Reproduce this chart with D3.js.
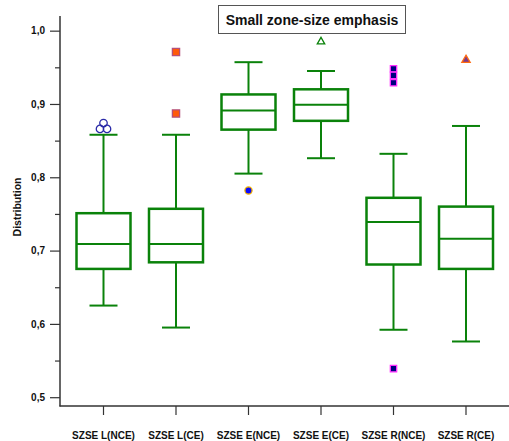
<!DOCTYPE html>
<html>
<head>
<meta charset="utf-8">
<script src="https://cdn.jsdelivr.net/npm/d3@7"></script>
<style>
    body { margin: 0; background: #fff; }
    text { font-family: "Liberation Sans", Arial, sans-serif; font-weight: bold; }
</style>
</head>
<body>
<div id="chart"></div>
<script>
// categories and box statistics
const categories = ["SZSE L(NCE)", "SZSE L(CE)", "SZSE E(NCE)", "SZSE E(CE)", "SZSE R(NCE)", "SZSE R(CE)"];
const whiskerLow  = [0.625, 0.595, 0.805, 0.826, 0.592, 0.576];
const q1          = [0.675, 0.684, 0.865, 0.877, 0.681, 0.675];
const median      = [0.709, 0.709, 0.891, 0.899, 0.739, 0.716];
const q3          = [0.751, 0.757, 0.913, 0.920, 0.772, 0.760];
const whiskerHigh = [0.858, 0.858, 0.957, 0.945, 0.832, 0.870];

// outliers per category
const outliers = [
    [0.866, 0.866, 0.874],
    [0.887, 0.971],
    [0.782],
    [0.985],
    [0.948, 0.939, 0.929, 0.539],
    [0.960]
];
const yTicks = [0.5, 0.6, 0.7, 0.8, 0.9, 1.0];

function BoxChart() {
    let self = this;

    self.initialize = function() {
        self.width = 509;
        self.height = 441;
        self.green = "#0a820a";

        // marker style for each category's outliers
        self.markers = [
            {type: d3.symbolCircle,   size: 44, fill: "none",    stroke: "#2a2aa8"},
            {type: d3.symbolSquare,   size: 52, fill: "#ff5a0a", stroke: "#b4507a"},
            {type: d3.symbolCircle,   size: 40, fill: "#0a0aff", stroke: "#f0b000"},
            {type: d3.symbolTriangle, size: 24, fill: "none",    stroke: "#0a820a"},
            {type: d3.symbolSquare,   size: 40, fill: "#000080", stroke: "#ff30ff"},
            {type: d3.symbolTriangle, size: 30, fill: "#7a3a8c", stroke: "#ff6a10"}
        ];

        self.x = d3.scaleBand().domain(categories).range([67.25, 502.25]);
        self.y = d3.scaleLinear().domain([0.488, 1.02]).range([406, 16]);

        self.render();
    };

    self.render = function() {
        self.svg = d3.select("#chart").append("svg")
            .attr("width", self.width)
            .attr("height", self.height);

        self.renderAxes();
        self.renderBoxes();
        self.renderOutliers();
        self.renderTitle();
    };

    self.renderAxes = function() {
        const fmt = d => d3.format(".1f")(d).replace(".", ",");

        // minor ticks
        const minor = d3.range(0.55, 1.0, 0.1);
        self.svg.append("g")
            .attr("transform", "translate(60,0)")
            .call(d3.axisLeft(self.y).tickValues(minor).tickSize(5).tickFormat(""))
            .call(g => g.select(".domain").remove())
            .call(g => g.selectAll("line").attr("stroke", "#333").attr("stroke-width", 1.2));

        const yAxis = self.svg.append("g")
            .attr("transform", "translate(60,0)")
            .call(d3.axisLeft(self.y).tickValues(yTicks).tickSize(10).tickPadding(5).tickFormat(fmt));
        yAxis.select(".domain").remove();
        yAxis.selectAll("line").attr("stroke", "#333").attr("stroke-width", 1.2);
        yAxis.selectAll("text").attr("font-size", 10).attr("fill", "#111")
            .style("font-family", "'Liberation Sans', Arial, sans-serif").style("font-weight", "bold");

        const xAxis = self.svg.append("g")
            .attr("transform", "translate(0,406)")
            .call(d3.axisBottom(self.x).tickSize(9).tickPadding(17));
        xAxis.select(".domain").remove();
        xAxis.selectAll("line").attr("stroke", "#333").attr("stroke-width", 1.2);
        xAxis.selectAll("text").attr("font-size", 10).attr("fill", "#111")
            .style("font-family", "'Liberation Sans', Arial, sans-serif").style("font-weight", "bold");

        // axis lines
        self.svg.append("line")
            .attr("x1", 60).attr("x2", 60)
            .attr("y1", self.y.range()[1]).attr("y2", 406.5)
            .attr("stroke", "#333").attr("stroke-width", 1.5);
        self.svg.append("line")
            .attr("x1", 59.5).attr("x2", self.width)
            .attr("y1", 406).attr("y2", 406)
            .attr("stroke", "#333").attr("stroke-width", 1.5);

        self.svg.append("text")
            .attr("transform", "translate(20.5," + ((self.y(0.5) + self.y(1.0)) / 2 - 7) + ") rotate(-90)")
            .attr("text-anchor", "middle")
            .attr("font-size", 10.5)
            .attr("fill", "#111")
            .text("Distribution");
    };

    self.renderBoxes = function() {
        const boxW = 54, capW = 28;
        const boxes = self.svg.selectAll("g.box")
            .data(categories)
            .enter()
            .append("g")
            .attr("class", "box")
            .attr("transform", d => "translate(" + (self.x(d) + self.x.bandwidth() / 2) + ",0)");

        const line = (sel, x1, x2, y1, y2) => sel.append("line")
            .attr("x1", x1).attr("x2", x2).attr("y1", y1).attr("y2", y2)
            .attr("stroke", self.green).attr("stroke-width", 2);

        boxes.each(function(d, i) {
            const g = d3.select(this);
            line(g, 0, 0, self.y(whiskerHigh[i]), self.y(q3[i]));
            line(g, 0, 0, self.y(q1[i]), self.y(whiskerLow[i]));
            line(g, -capW / 2, capW / 2, self.y(whiskerHigh[i]), self.y(whiskerHigh[i]));
            line(g, -capW / 2, capW / 2, self.y(whiskerLow[i]), self.y(whiskerLow[i]));
            g.append("rect")
                .attr("x", -boxW / 2)
                .attr("width", boxW)
                .attr("y", self.y(q3[i]))
                .attr("height", self.y(q1[i]) - self.y(q3[i]))
                .attr("fill", "none")
                .attr("stroke", self.green)
                .attr("stroke-width", 2.5);
            line(g, -boxW / 2, boxW / 2, self.y(median[i]), self.y(median[i]));
        });
    };

    self.renderOutliers = function() {
        categories.forEach((c, i) => {
            const m = self.markers[i];
            const cx = self.x(c) + self.x.bandwidth() / 2;
            const counts = {};
            outliers[i].forEach(v => {
                // spread points sharing the same value side by side
                const same = outliers[i].filter(o => o === v).length;
                counts[v] = (counts[v] || 0);
                const dx = same > 1 ? (counts[v] - (same - 1) / 2) * 7 : 0;
                counts[v]++;
                self.svg.append("path")
                    .attr("d", d3.symbol().type(m.type).size(m.size)())
                    .attr("transform", "translate(" + (cx + dx) + "," + self.y(v) + ")")
                    .attr("fill", m.fill)
                    .attr("stroke", m.stroke)
                    .attr("stroke-width", 1.3);
            });
        });
    };

    self.renderTitle = function() {
        self.svg.append("rect")
            .attr("x", 218.5).attr("y", 5.5)
            .attr("width", 187).attr("height", 28)
            .attr("fill", "#fff")
            .attr("stroke", "#555")
            .attr("stroke-width", 1);
        self.svg.append("text")
            .attr("x", 312).attr("y", 24.5)
            .attr("text-anchor", "middle")
            .attr("font-size", 14)
            .attr("fill", "#111")
            .text("Small zone-size emphasis");
    };
}

new BoxChart().initialize();
</script>
</body>
</html>
